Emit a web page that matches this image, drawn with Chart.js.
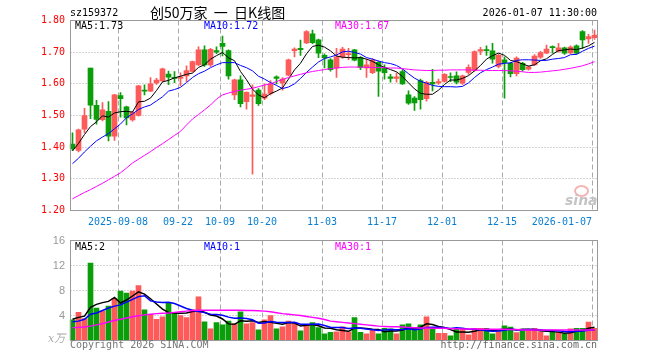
<!DOCTYPE html>
<html><head><meta charset="utf-8">
<script src="https://cdn.jsdelivr.net/npm/chart.js@4.4.1/dist/chart.umd.min.js"></script>
<style>
html,body{margin:0;padding:0;background:#fff;}
#wrap{position:relative;width:660px;height:360px;overflow:hidden;font-family:"DejaVu Sans Mono",monospace;}
canvas{position:absolute;left:0;}
.t{position:absolute;white-space:pre;font-size:10px;line-height:12px;color:#000;}
</style></head>
<body><div id="wrap">
<canvas id="k" width="660" height="235" style="top:0"></canvas>
<canvas id="v" width="660" height="135" style="top:225px"></canvas>
<div class="t" style="left:70px;top:7px;">sz159372</div>
<div class="t" style="left:150px;top:5px;font-family:'Noto Sans CJK SC';font-size:14px;line-height:15px">创50万家  一  日K线图</div>
<div class="t" style="right:63px;top:7px;">2026-01-07 11:30:00</div>
<div class="t" style="left:75px;top:20px;">MA5:1.73</div>
<div class="t" style="left:204px;top:20px;color:#0000ff">MA10:1.72</div>
<div class="t" style="left:335px;top:20px;color:#ff00ff">MA30:1.67</div>
<div class="t" style="left:75px;top:241px;">MA5:2</div>
<div class="t" style="left:204px;top:241px;color:#0000ff">MA10:1</div>
<div class="t" style="left:335px;top:241px;color:#ff00ff">MA30:1</div>
<div class="t" style="left:48px;top:333px;font-family:'DejaVu Serif','Noto Sans CJK SC';font-size:11px;color:#aaa;font-style:italic">x万</div>
<div class="t" style="left:70px;top:339px;color:#777">Copyright 2026 SINA.COM</div>
<div class="t" style="right:63px;top:339px;color:#666">http://finance.sina.com.cn</div>
<div style="position:absolute;left:574px;top:185px;width:11px;height:8px;border:2px solid #f6b3b3;border-radius:50%;"></div>
<div class="t" style="left:565px;top:192px;font-family:'DejaVu Sans';font-weight:bold;font-style:italic;font-size:14px;line-height:16px;color:#c4c4c4">sina</div>
</div>
<script>
const dates = ['2025-08-27','2025-08-28','2025-08-29','2025-09-01','2025-09-02','2025-09-03','2025-09-04','2025-09-05','2025-09-08','2025-09-09','2025-09-10','2025-09-11','2025-09-12','2025-09-15','2025-09-16','2025-09-17','2025-09-18','2025-09-19','2025-09-22','2025-09-23','2025-09-24','2025-09-25','2025-09-26','2025-09-29','2025-09-30','2025-10-09','2025-10-10','2025-10-13','2025-10-14','2025-10-15','2025-10-16','2025-10-17','2025-10-20','2025-10-21','2025-10-22','2025-10-23','2025-10-24','2025-10-27','2025-10-28','2025-10-29','2025-10-30','2025-10-31','2025-11-03','2025-11-04','2025-11-05','2025-11-06','2025-11-07','2025-11-10','2025-11-11','2025-11-12','2025-11-13','2025-11-14','2025-11-17','2025-11-18','2025-11-19','2025-11-20','2025-11-21','2025-11-24','2025-11-25','2025-11-26','2025-11-27','2025-11-28','2025-12-01','2025-12-02','2025-12-03','2025-12-04','2025-12-05','2025-12-08','2025-12-09','2025-12-10','2025-12-11','2025-12-12','2025-12-15','2025-12-16','2025-12-17','2025-12-18','2025-12-19','2025-12-22','2025-12-23','2025-12-24','2025-12-25','2025-12-26','2025-12-29','2025-12-30','2025-12-31','2026-01-05','2026-01-06','2026-01-07'];

const tickLabels = [['2025-09-08','2025-09-08'],['2025-09-22','09-22'],['2025-10-09','10-09'],['2025-10-20','10-20'],['2025-11-03','11-03'],['2025-11-17','11-17'],['2025-12-01','12-01'],['2025-12-15','12-15'],['2026-01-07','2026-01-07']];

const priceTicks = [1.2,1.3,1.4,1.5,1.6,1.7,1.8];
const volTicks = [0,4,8,12,16];

const open  = [1.41,1.39,1.457,1.65,1.532,1.487,1.513,1.435,1.563,1.527,1.486,1.50,1.58,1.577,1.603,1.609,1.631,1.62,1.617,1.625,1.639,1.66,1.707,1.66,1.705,1.728,1.705,1.565,1.613,1.544,1.56,1.58,1.555,1.57,1.622,1.603,1.627,1.705,1.712,1.729,1.758,1.739,1.69,1.676,1.65,1.685,1.692,1.707,1.683,1.65,1.635,1.668,1.65,1.622,1.617,1.639,1.565,1.555,1.61,1.553,1.605,1.603,1.608,1.623,1.625,1.602,1.636,1.642,1.703,1.708,1.704,1.655,1.676,1.665,1.632,1.665,1.646,1.66,1.684,1.697,1.718,1.702,1.714,1.698,1.72,1.765,1.742,1.746];
const high  = [1.445,1.457,1.523,1.65,1.548,1.541,1.544,1.567,1.572,1.53,1.513,1.595,1.597,1.62,1.617,1.65,1.64,1.639,1.635,1.657,1.672,1.717,1.72,1.712,1.717,1.751,1.707,1.615,1.625,1.575,1.597,1.585,1.60,1.61,1.625,1.62,1.678,1.714,1.738,1.768,1.77,1.741,1.695,1.68,1.712,1.715,1.712,1.709,1.686,1.678,1.68,1.672,1.66,1.63,1.635,1.645,1.578,1.56,1.615,1.608,1.646,1.615,1.632,1.635,1.638,1.628,1.66,1.704,1.715,1.72,1.728,1.695,1.685,1.668,1.685,1.668,1.657,1.692,1.703,1.722,1.72,1.728,1.716,1.72,1.723,1.768,1.756,1.77];
const low   = [1.39,1.385,1.445,1.49,1.473,1.483,1.42,1.421,1.495,1.47,1.482,1.498,1.565,1.575,1.598,1.607,1.597,1.604,1.594,1.607,1.637,1.658,1.655,1.655,1.695,1.688,1.615,1.55,1.527,1.52,1.315,1.532,1.55,1.565,1.60,1.58,1.625,1.685,1.69,1.727,1.727,1.683,1.65,1.64,1.62,1.68,1.676,1.672,1.645,1.62,1.632,1.56,1.615,1.605,1.605,1.598,1.535,1.516,1.52,1.545,1.578,1.598,1.605,1.607,1.60,1.598,1.63,1.64,1.692,1.69,1.665,1.65,1.555,1.622,1.625,1.64,1.643,1.658,1.68,1.695,1.697,1.70,1.693,1.695,1.694,1.712,1.728,1.74];
const close = [1.395,1.455,1.50,1.533,1.488,1.518,1.435,1.565,1.553,1.492,1.51,1.594,1.577,1.60,1.612,1.647,1.621,1.617,1.622,1.642,1.67,1.707,1.66,1.709,1.70,1.718,1.625,1.613,1.537,1.573,1.565,1.537,1.568,1.60,1.617,1.615,1.676,1.71,1.708,1.765,1.73,1.697,1.682,1.645,1.685,1.71,1.695,1.675,1.652,1.66,1.675,1.64,1.635,1.617,1.622,1.60,1.539,1.54,1.55,1.605,1.60,1.607,1.63,1.62,1.605,1.625,1.652,1.702,1.708,1.705,1.678,1.69,1.667,1.632,1.681,1.645,1.654,1.688,1.699,1.71,1.714,1.714,1.697,1.716,1.697,1.739,1.749,1.754];

const ma5  = [1.388,1.412,1.44,1.465,1.48,1.499,1.495,1.508,1.512,1.513,1.511,1.543,1.545,1.555,1.579,1.606,1.611,1.619,1.624,1.63,1.634,1.652,1.66,1.678,1.689,1.699,1.682,1.673,1.639,1.613,1.583,1.565,1.556,1.569,1.577,1.587,1.615,1.644,1.665,1.695,1.718,1.722,1.716,1.704,1.688,1.684,1.683,1.682,1.683,1.678,1.671,1.66,1.652,1.645,1.638,1.623,1.603,1.584,1.57,1.567,1.567,1.58,1.598,1.612,1.612,1.617,1.626,1.641,1.658,1.678,1.689,1.697,1.69,1.674,1.67,1.663,1.656,1.66,1.673,1.679,1.693,1.705,1.707,1.71,1.708,1.713,1.72,1.731];
const ma10 = [1.348,1.365,1.385,1.403,1.42,1.432,1.443,1.458,1.473,1.493,1.505,1.519,1.527,1.533,1.546,1.559,1.577,1.582,1.589,1.604,1.62,1.632,1.64,1.651,1.66,1.667,1.667,1.667,1.658,1.651,1.641,1.624,1.615,1.604,1.595,1.585,1.59,1.60,1.617,1.636,1.653,1.669,1.68,1.685,1.691,1.701,1.703,1.699,1.694,1.683,1.678,1.672,1.667,1.664,1.658,1.647,1.632,1.618,1.608,1.602,1.595,1.592,1.591,1.591,1.59,1.592,1.603,1.62,1.635,1.645,1.653,1.662,1.665,1.666,1.674,1.676,1.676,1.675,1.674,1.674,1.678,1.68,1.683,1.692,1.693,1.703,1.712,1.719];
const ma30 = [1.237,1.247,1.257,1.266,1.276,1.286,1.297,1.308,1.319,1.334,1.35,1.362,1.374,1.386,1.399,1.411,1.424,1.437,1.45,1.47,1.489,1.503,1.518,1.533,1.552,1.565,1.571,1.576,1.58,1.583,1.586,1.591,1.596,1.60,1.607,1.614,1.62,1.625,1.63,1.635,1.639,1.642,1.645,1.648,1.65,1.652,1.653,1.653,1.653,1.652,1.652,1.651,1.651,1.65,1.65,1.648,1.646,1.644,1.643,1.642,1.642,1.643,1.643,1.644,1.644,1.644,1.644,1.643,1.643,1.642,1.642,1.642,1.642,1.641,1.64,1.638,1.636,1.636,1.637,1.639,1.641,1.643,1.646,1.649,1.653,1.657,1.663,1.67];

const volume = [3.3,4.5,3.5,12.4,5.2,4.7,5.5,6.7,7.9,7.6,7.9,8.8,4.9,4.2,3.4,3.8,6.1,4.5,4.0,3.65,4.9,7.0,3.0,1.85,2.85,2.5,3.1,2.65,4.6,2.65,2.85,1.7,3.3,4.0,1.85,2.2,3.1,2.85,1.55,2.5,2.85,2.05,1.05,1.3,1.4,2.2,1.4,3.65,1.3,1.05,1.7,1.05,1.95,1.85,1.05,2.5,2.65,1.95,2.5,3.8,1.85,1.15,1.15,0.75,1.85,1.95,0.9,1.95,1.95,1.95,1.05,1.7,2.35,2.15,1.25,1.55,1.7,1.95,1.4,0.75,1.3,1.3,1.05,1.85,1.95,1.95,2.95,1.95];
const vma5  = [3.4,3.7,3.9,5.3,5.78,6.06,6.26,6.9,6.0,6.48,7.12,7.78,7.42,6.68,5.84,5.02,4.48,4.4,4.36,4.41,4.63,4.81,4.51,4.08,3.92,3.44,2.66,2.59,3.14,3.1,3.17,2.89,3.02,2.9,2.74,2.61,2.89,2.8,2.31,2.44,2.57,2.36,2.0,1.95,1.73,1.6,1.47,1.99,1.99,1.92,1.82,1.75,1.41,1.52,1.52,1.68,2.0,2.0,2.13,2.68,2.55,2.25,2.09,1.74,1.35,1.37,1.32,1.48,1.72,1.74,1.56,1.72,1.8,1.84,1.7,1.8,1.8,1.72,1.57,1.47,1.42,1.34,1.16,1.25,1.49,1.62,1.95,2.13];
const vma10 = [3.0,3.1,3.4,4.2,4.4,4.8,5.2,5.5,5.7,6.13,6.59,7.02,7.16,6.34,6.16,6.07,6.13,5.91,5.52,5.13,4.83,4.65,4.46,4.22,4.17,4.04,3.74,3.55,3.61,3.51,3.31,2.78,2.81,3.02,2.92,2.89,2.89,2.91,2.61,2.59,2.59,2.63,2.4,2.13,2.09,2.09,1.92,2.0,1.97,1.83,1.71,1.61,1.7,1.76,1.72,1.75,1.88,1.71,1.83,2.1,2.12,2.13,2.05,1.94,2.02,1.96,1.79,1.79,1.73,1.55,1.47,1.52,1.64,1.78,1.72,1.68,1.76,1.76,1.71,1.59,1.61,1.57,1.44,1.41,1.48,1.52,1.65,1.65];
const vma30 = [2.05,2.1,2.15,2.3,2.5,2.7,2.95,3.2,3.4,3.6,3.8,3.95,4.1,4.2,4.3,4.35,4.4,4.5,4.6,4.7,4.8,4.85,4.85,4.85,4.85,4.85,4.85,4.85,4.85,4.8,4.8,4.75,4.7,4.6,4.45,4.3,4.2,4.1,4.0,3.85,3.7,3.55,3.35,3.1,3.0,2.9,2.8,2.7,2.6,2.5,2.4,2.3,2.25,2.2,2.2,2.15,2.1,2.05,2.0,2.0,1.95,1.95,1.95,1.9,1.9,1.85,1.85,1.85,1.8,1.8,1.8,1.8,1.8,1.75,1.75,1.7,1.7,1.7,1.7,1.7,1.7,1.7,1.7,1.7,1.7,1.7,1.7,1.7];

const RED = '#ff5a5a', GREEN = '#0a9f0a';
const candleColor = close.map((c,i)=> c >= open[i] ? RED : GREEN);

function drawFrame(chart, yVals){
  const {ctx, chartArea:a, scales:{x,y}} = chart;
  ctx.save();
  ctx.lineWidth = 1;
  ctx.strokeStyle = '#aaaaaa';
  ctx.setLineDash([1,2]);
  yVals.forEach(v=>{
    const py = Math.floor(y.getPixelForValue(v)) + 0.5;
    ctx.beginPath(); ctx.moveTo(a.left+1, py); ctx.lineTo(a.right, py); ctx.stroke();
  });
  ctx.setLineDash([5,3]);
  tickLabels.forEach(([d])=>{
    const i = dates.indexOf(d);
    const px = Math.floor(x.getPixelForValue(i)) - 2 + 0.5;
    ctx.beginPath(); ctx.moveTo(px, a.top); ctx.lineTo(px, a.bottom); ctx.stroke();
  });
  ctx.restore();
}
function drawBox(chart){
  const {ctx, chartArea:a} = chart;
  ctx.save();
  ctx.strokeStyle = '#999999'; ctx.lineWidth = 1; ctx.setLineDash([]);
  const l = Math.floor(a.left)+1.5, r = Math.floor(a.right)+0.5, t = Math.floor(a.top)+0.5, b = Math.floor(a.bottom)+0.5;
  ctx.strokeRect(l, t, r-l, b-t);
  ctx.restore();
}

const kPlugin = {
  id:'kPlugin',
  beforeDatasetsDraw(chart){ drawFrame(chart, [1.3,1.4,1.5,1.6,1.7]); },
  afterDraw(chart){
    drawBox(chart);
    const {ctx, chartArea:a, scales:{x}} = chart;
    ctx.save();
    ctx.font = '10px "DejaVu Sans Mono"';
    ctx.fillStyle = '#0a7fd0';
    ctx.textBaseline = 'alphabetic';
    tickLabels.forEach(([d,lab])=>{
      const i = dates.indexOf(d);
      const px = Math.floor(x.getPixelForValue(i)) - 2;
      const w = ctx.measureText(lab).width;
      if (px + w/2 > a.right) { ctx.textAlign='right'; ctx.fillText(lab, px, 225); }
      else { ctx.textAlign='center'; ctx.fillText(lab, px, 225); }
    });
    ctx.restore();
  }
};
const vPlugin = {
  id:'vPlugin',
  beforeDatasetsDraw(chart){ drawFrame(chart, [4,8,12]); },
  afterDraw(chart){ drawBox(chart); }
};

function xAxis(h){
  return {type:'category', offset:true, display:true,
    grid:{display:false, drawTicks:false}, border:{display:false},
    ticks:{display:false, autoSkip:false},
    afterFit(s){ s.height = h; }};
}
function lineDs(data, color, w){
  return {type:'line', data, borderColor:color, borderWidth:w, pointRadius:0, tension:0, fill:false, order:0};
}

new Chart(document.getElementById('k'), {
  type:'bar',
  data:{
    labels: dates,
    datasets:[
      {data: low.map((l,i)=>[l, high[i]]), backgroundColor: candleColor, barThickness:1, grouped:false, borderWidth:0, order:2},
      {data: open.map((o,i)=>[o, close[i]]), backgroundColor: candleColor, barThickness:5, grouped:false, borderWidth:0, minBarLength:1, order:1},
      lineDs(ma30, '#ff00ff', 1),
      lineDs(ma10, '#0000ff', 1),
      lineDs(ma5, '#000000', 1)
    ]
  },
  options:{
    responsive:false, animation:false, devicePixelRatio:1,
    layout:{padding:{left:0, right:62.5, top:20.5, bottom:0}},
    plugins:{legend:{display:false}, tooltip:{enabled:false}},
    scales:{
      x: xAxis(24.5),
      y: {min:1.2, max:1.8, grid:{display:false, drawTicks:false}, border:{display:false},
          afterBuildTicks(s){ s.ticks = priceTicks.map(v=>({value:v})); },
          ticks:{padding:4.5, color:'#ff0000', font:{family:'DejaVu Sans Mono', size:10}, callback:(v)=>Number(v).toFixed(2)},
          afterFit(s){ s.width = 69.5; }}
    }
  },
  plugins:[kPlugin]
});

new Chart(document.getElementById('v'), {
  type:'bar',
  data:{
    labels: dates,
    datasets:[
      {data: volume, backgroundColor: candleColor, barThickness:5, borderWidth:0, order:1},
      lineDs(vma30, '#ff00ff', 1.5),
      lineDs(vma10, '#0000ff', 1.5),
      lineDs(vma5, '#000000', 1.5)
    ]
  },
  options:{
    responsive:false, animation:false, devicePixelRatio:1,
    layout:{padding:{left:0, right:62.5, top:15.5, bottom:0}},
    plugins:{legend:{display:false}, tooltip:{enabled:false}},
    scales:{
      x: xAxis(19.5),
      y: {min:0, max:16, grid:{display:false, drawTicks:false}, border:{display:false},
          afterBuildTicks(s){ s.ticks = volTicks.map(v=>({value:v})); },
          ticks:{padding:4.5, color:'#999999', font:{family:'Liberation Sans', size:11}, callback:(v)=> v===0 ? '' : String(v)},
          afterFit(s){ s.width = 69.5; }}
    }
  },
  plugins:[vPlugin]
});
</script>
</body></html>
